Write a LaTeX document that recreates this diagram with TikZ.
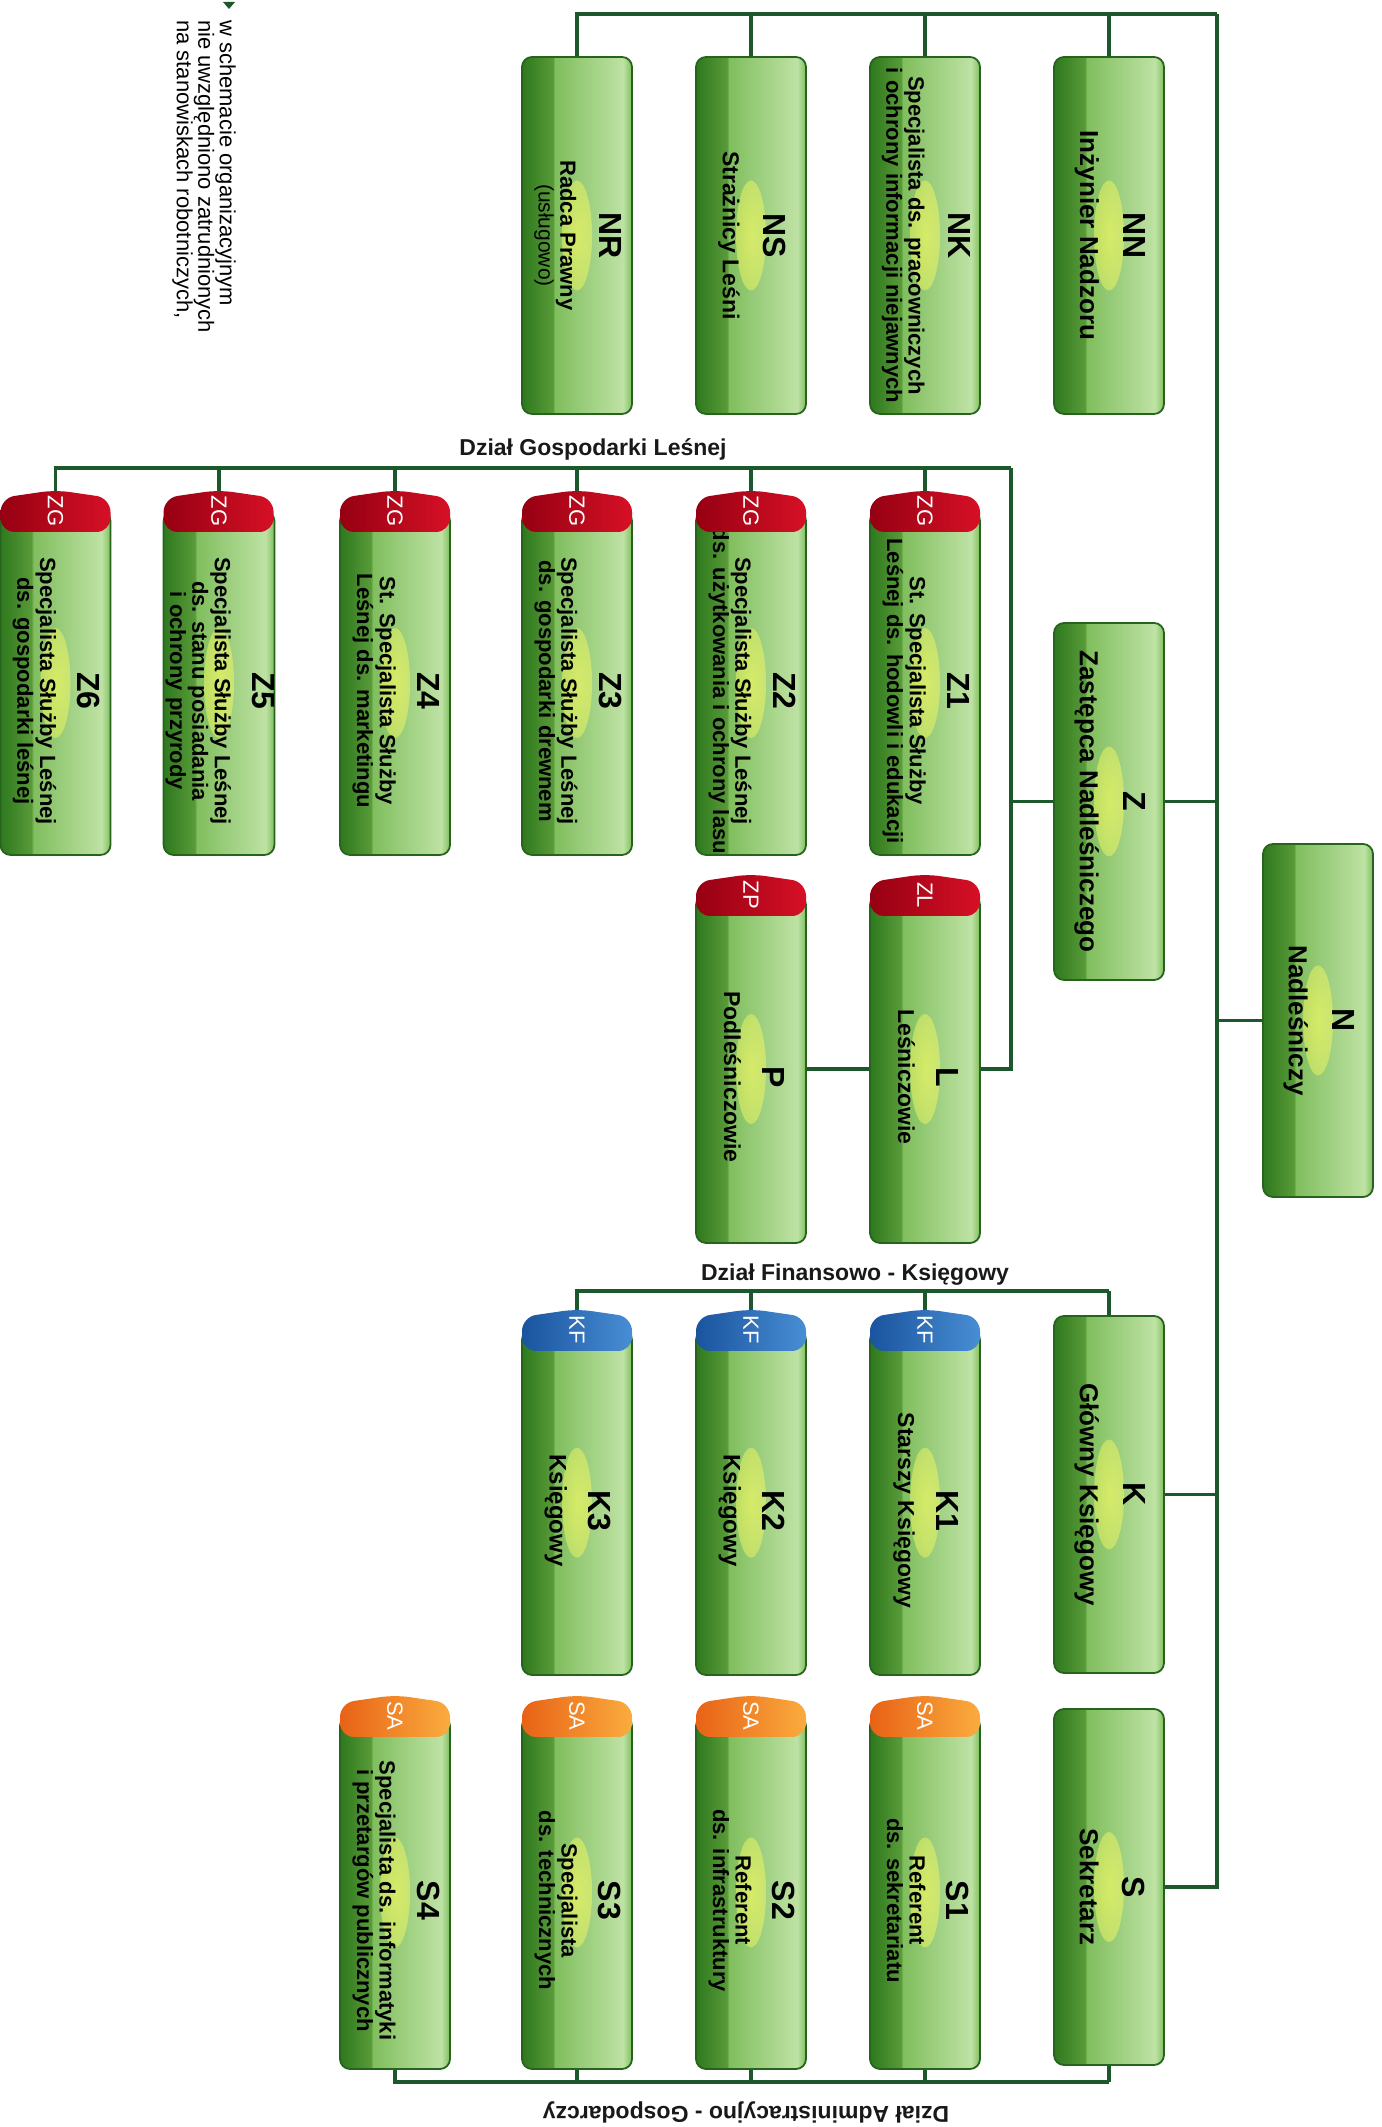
\documentclass[tikz,border=0pt]{standalone}
\usepackage{fontspec}
\setmainfont{Liberation Sans}
\usepackage{graphicx}
\usetikzlibrary{positioning,backgrounds,fadings}
\definecolor{LineGreen}{RGB}{28,88,44}
\definecolor{EdgeGreen}{RGB}{38,100,30}
\definecolor{LeafA}{RGB}{46,120,30}
\definecolor{LeafB}{RGB}{88,154,56}
\definecolor{LeafC}{RGB}{128,190,94}
\definecolor{LeafD}{RGB}{190,226,164}
\definecolor{Glow}{RGB}{236,246,100}
\definecolor{TagRedA}{RGB}{150,0,18}
\definecolor{TagRedB}{RGB}{214,16,38}
\definecolor{TagBlueA}{RGB}{26,84,158}
\definecolor{TagBlueB}{RGB}{72,142,212}
\definecolor{TagOrangeA}{RGB}{232,98,22}
\definecolor{TagOrangeB}{RGB}{250,172,62}
\pgfdeclarehorizontalshading{leafshade}{100bp}{color(0bp)=(LeafA); color(25bp)=(LeafA); color(39bp)=(LeafB); color(40bp)=(LeafC); color(71bp)=(LeafD); color(75bp)=(LeafC); color(100bp)=(LeafC)}
\tikzfading[name=glowfade, inner color=transparent!0, outer color=transparent!100]
\newcommand{\headfont}{\fontsize{32}{30}\selectfont\bfseries}
\newcommand{\posttext}[2]{\rotatebox{-90}{\begin{tabular}{@{}c@{}}{\headfont #1}\\[17pt]#2\end{tabular}}}
\newcommand{\subposttext}[2]{\rotatebox{-90}{\hspace{16pt}\begin{tabular}{@{}c@{}}{\headfont #1}\\[15pt]#2\end{tabular}}}
\tikzset{
  post/.style={shade, shading=leafshade, draw=EdgeGreen, line width=1.8pt, rounded corners=10pt,
    outer sep=0pt, inner sep=0pt, minimum width=110pt, minimum height=#1, text=black,
    font=\fontsize{22}{21.5}\selectfont\bfseries,
    path picture={\fill[Glow, fill opacity=0.75, path fading=glowfade] (path picture bounding box.center) ellipse [x radius=15, y radius=55];}},
  post/.default=357pt,
  toppost/.style={post=#1, font=\fontsize{26}{24}\selectfont\bfseries},
  toppost/.default=357pt,
  tagname/.style={rotate=-90, text=white, font=\fontsize{22}{22}\selectfont, inner sep=0pt},
  link/.style={draw=LineGreen, line width=3.5pt},
  dept/.style={font=\fontsize{23}{23}\selectfont\bfseries, text=black!90, inner sep=0pt},
}
\begin{document}
\begin{tikzpicture}[x=1pt, y=1pt]
  \useasboundingbox (0,0) rectangle (1381,2127);
  % management
  \node[toppost=353pt] (nadl) at (1318,1106.5) {\posttext{N}{Nadleśniczy}};
  \node[toppost] (inzn) at (1109,1891.5) {\posttext{NN}{Inżynier Nadzoru}};
  \node[post] (kadr) at (925,1891.5) {\posttext{NK}{Specjalista ds. pracowniczych\\i ochrony informacji niejawnych}};
  \node[post, font=\fontsize{23}{22}\selectfont\bfseries] (straz) at (751,1891.5) {\posttext{NS}{Strażnicy Leśni}};
  \node[post] (radca) at (577,1891.5) {\posttext{NR}{Radca Prawny\\{\mdseries\fontsize{21}{20}\selectfont(usługowo)}}};
  \node[toppost] (zast) at (1109,1325.5) {\posttext{Z}{Zastępca Nadleśniczego}};
  \node[toppost] (kslg) at (1109,632.5) {\posttext{K}{Główny Księgowy}};
  \node[toppost=356pt] (sekr) at (1109,240) {\posttext{S}{Sekretarz}};
  % forest management
  \node[post=344pt] (z1) at (925,1444) {\subposttext{Z1}{St. Specjalista Służby\\Leśnej ds. hodowli i edukacji}};
  \node[post=344pt] (z2) at (751,1444) {\subposttext{Z2}{Specjalista Służby Leśnej\\ds. użytkowania i ochrony lasu}};
  \node[post=344pt] (z3) at (577,1444) {\subposttext{Z3}{Specjalista Służby Leśnej\\ds. gospodarki drewnem}};
  \node[post=344pt] (z4) at (395,1444) {\subposttext{Z4}{St. Specjalista Służby\\Leśnej ds. marketingu}};
  \node[post=344pt] (z5) at (219,1444) {\subposttext{Z5}{Specjalista Służby Leśnej\\ds. stanu posiadania\\i ochrony przyrody}};
  \node[post=344pt] (z6) at (55.5,1444) {\subposttext{Z6}{Specjalista Służby Leśnej\\ds. gospodarki leśnej}};
  \node[post=348pt, font=\fontsize{23}{22}\selectfont\bfseries] (lesn) at (925,1058) {\subposttext{L}{Leśniczowie}};
  \node[post=348pt, font=\fontsize{23}{22}\selectfont\bfseries] (podl) at (751,1058) {\subposttext{P}{Podleśniczowie}};
  % finance
  \node[post=345pt, font=\fontsize{23}{22}\selectfont\bfseries] (k1) at (925,624.5) {\subposttext{K1}{Starszy Księgowy}};
  \node[post=345pt, font=\fontsize{24}{22}\selectfont\bfseries] (k2) at (751,624.5) {\subposttext{K2}{Księgowy}};
  \node[post=345pt, font=\fontsize{24}{22}\selectfont\bfseries] (k3) at (577,624.5) {\subposttext{K3}{Księgowy}};
  % administration
  \node[post=353pt] (s1) at (925,234.5) {\subposttext{S1}{Referent\\ds. sekretariatu}};
  \node[post=353pt] (s2) at (751,234.5) {\subposttext{S2}{Referent\\ds. infrastruktury}};
  \node[post=353pt] (s3) at (577,234.5) {\subposttext{S3}{Specjalista\\ds. technicznych}};
  \node[post=353pt] (s4) at (395,234.5) {\subposttext{S4}{Specjalista ds. informatyki\\i przetargów publicznych}};
  % department tags
  \foreach \nm/\tg/\cl in {z1/ZG/TagRed, z2/ZG/TagRed, z3/ZG/TagRed, z4/ZG/TagRed, z5/ZG/TagRed, z6/ZG/TagRed,
      lesn/ZL/TagRed, podl/ZP/TagRed, k1/KF/TagBlue, k2/KF/TagBlue, k3/KF/TagBlue,
      s1/SA/TagOrange, s2/SA/TagOrange, s3/SA/TagOrange, s4/SA/TagOrange} {
    \shade[left color=\cl A, right color=\cl B, rounded corners=14pt]
      (\nm.north west) ++(0,-21) -- ++(0,34) -- ++(55,8) -- ++(55,-8) -- ++(0,-34) -- cycle;
    \node[tagname] (\nm tag) at (\nm.north) {\tg};
  }
  \node[dept] (zgname) at (593,1678) {Dział Gospodarki Leśnej};
  \node[dept] (fkname) at (855,852) {Dział Finansowo - Księgowy};
  \node[dept, rotate=180] (agname) at (746,15) {Dział Administracyjno - Gospodarczy};
  % note
  \fill[LineGreen] (223,2125) -- (235,2125) -- (229,2118) -- cycle;
  \node[rotate=-90, anchor=north west, align=left, inner sep=0pt, font=\fontsize{22}{21.5}\selectfont] (note) at (236,2107)
    {w schemacie organizacyjnym\\nie uwzględniono zatrudnionych\\na stanowiskach robotniczych,};
  % connectors
  \coordinate (spinetop) at (1217,2113);
  \coordinate (zgbus) at (1011,1659);
  \coordinate (fkbus) at (1109,836);
  \coordinate (agbus) at (1109,45);
  \begin{scope}[on background layer]
    \draw[link] (spinetop) |- (sekr);
    \foreach \nm in {radca,straz,kadr,inzn} \draw[link] (spinetop) -| (\nm);
    \foreach \nm in {nadl,zast,kslg} \draw[link] (spinetop |- \nm) -- (\nm);
    \draw[link] (zast) -| (zgbus);
    \draw[link] (zgbus) |- (lesn);
    \foreach \nm in {z1,z2,z3,z4,z5,z6} \draw[link] (zgbus) -| (\nm);
    \draw[link] (lesn) -- (podl);
    \draw[link] (fkbus) -- (kslg);
    \foreach \nm in {k1,k2,k3} \draw[link] (fkbus) -| (\nm);
    \draw[link] (agbus) -- (sekr);
    \foreach \nm in {s1,s2,s3,s4} \draw[link] (agbus) -| (\nm);
  \end{scope}
\end{tikzpicture}
\end{document}
